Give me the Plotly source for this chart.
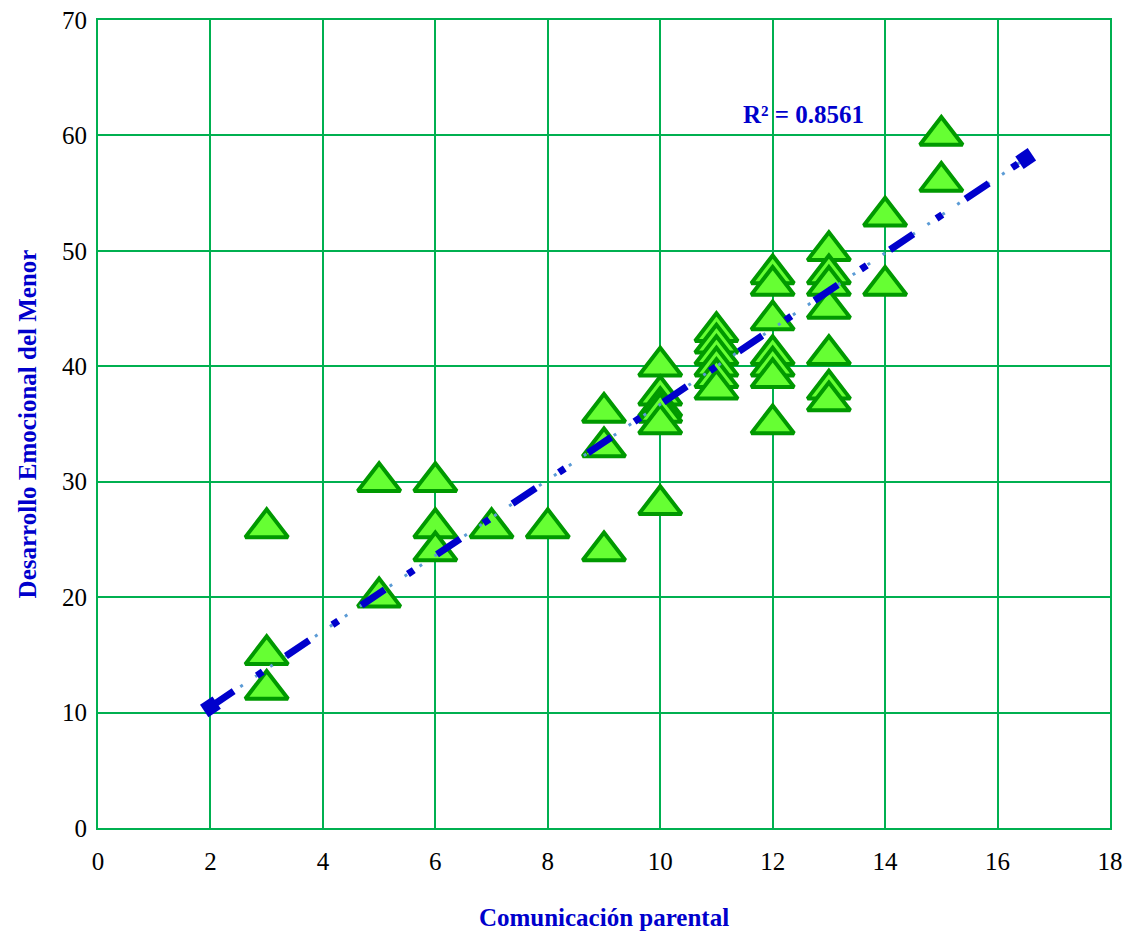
import plotly.graph_objects as go

## Data
# Comunicación parental (x) vs Desarrollo Emocional del Menor (y)
com_parental = [3, 3, 3,
                5, 5,
                6, 6, 6,
                7, 8,
                9, 9, 9,
                10, 10, 10, 10, 10, 10,
                11, 11, 11, 11, 11, 11,
                12, 12, 12, 12, 12, 12, 12,
                13, 13, 13, 13, 13, 13, 13,
                14, 14,
                15, 15]
des_emocional = [26, 15, 12,
                 30, 20,
                 30, 26, 24,
                 26, 26,
                 36, 33, 24,
                 40, 37.5, 36.5, 36, 35, 28,
                 43, 42, 41, 40, 39, 38,
                 48, 47, 44, 41, 40, 39, 35,
                 50, 48, 47, 45, 41, 38, 37,
                 53, 47,
                 60, 56]

# linear trend line (extended backwards/forwards), as drawn
trend_x = [2, 16.5]
trend_y = [10.5, 58.0]
r2_text = "R² = 0.8561"

x_ticks = [0, 2, 4, 6, 8, 10, 12, 14, 16, 18]
y_ticks = [0, 10, 20, 30, 40, 50, 60, 70]

## Colours
grid_green = "#00B050"
tri_fill = "#66FF33"
tri_line = "#009900"
dark_blue = "#0000CC"
light_blue = "#5B9BD5"
font_fam = "Liberation Serif, Times New Roman, serif"

fig = go.Figure()

# data points
fig.add_trace(go.Scatter(x=com_parental, y=des_emocional, mode="markers",
                         marker=dict(symbol="triangle-up", size=37, color=tri_fill,
                                     line=dict(color=tri_line, width=4)),
                         showlegend=False, hoverinfo="x+y"))

# trend line: thin light-blue dotted underneath, thick dark-blue dash-dot on top
fig.add_trace(go.Scatter(x=trend_x, y=trend_y, mode="lines",
                         line=dict(color=light_blue, width=3, dash="3px,15px"),
                         showlegend=False, hoverinfo="skip"))
fig.add_trace(go.Scatter(x=trend_x, y=trend_y, mode="lines+markers",
                         line=dict(color=dark_blue, width=7, dash="28px,28px,7px,28px"),
                         marker=dict(symbol="square", size=15, color=dark_blue, angle=-34),
                         showlegend=False, hoverinfo="skip"))

# R² label
fig.add_annotation(x=12.55, y=61.8, text="<b>" + r2_text + "</b>", showarrow=False,
                   font=dict(family=font_fam, size=25, color=dark_blue))

fig.update_layout(
    width=1135, height=934,
    plot_bgcolor="white", paper_bgcolor="white",
    margin=dict(l=90, r=33, t=12, b=114),
    font=dict(family=font_fam, size=25, color="black"),
)
fig.update_xaxes(range=[0, 18], tickvals=x_ticks, showgrid=True, gridcolor=grid_green,
                 gridwidth=2, zeroline=False, showline=True, linecolor=grid_green,
                 linewidth=2, mirror=True, ticks="", ticklabelstandoff=10, automargin=False,
                 ticklabeloverflow="allow",
                 title=dict(text="<b>Comunicación parental</b>", standoff=34,
                            font=dict(family=font_fam, size=25, color=dark_blue)))
fig.update_yaxes(range=[0, 70], tickvals=y_ticks, showgrid=True, gridcolor=grid_green,
                 gridwidth=2, zeroline=False, showline=True, linecolor=grid_green,
                 linewidth=2, mirror=True, ticks="", ticklabelstandoff=4, automargin=False,
                 ticklabeloverflow="allow",
                 title=dict(text="<b>Desarrollo Emocional del Menor</b>", standoff=18,
                            font=dict(family=font_fam, size=25, color=dark_blue)))

fig.write_html("out.html")
